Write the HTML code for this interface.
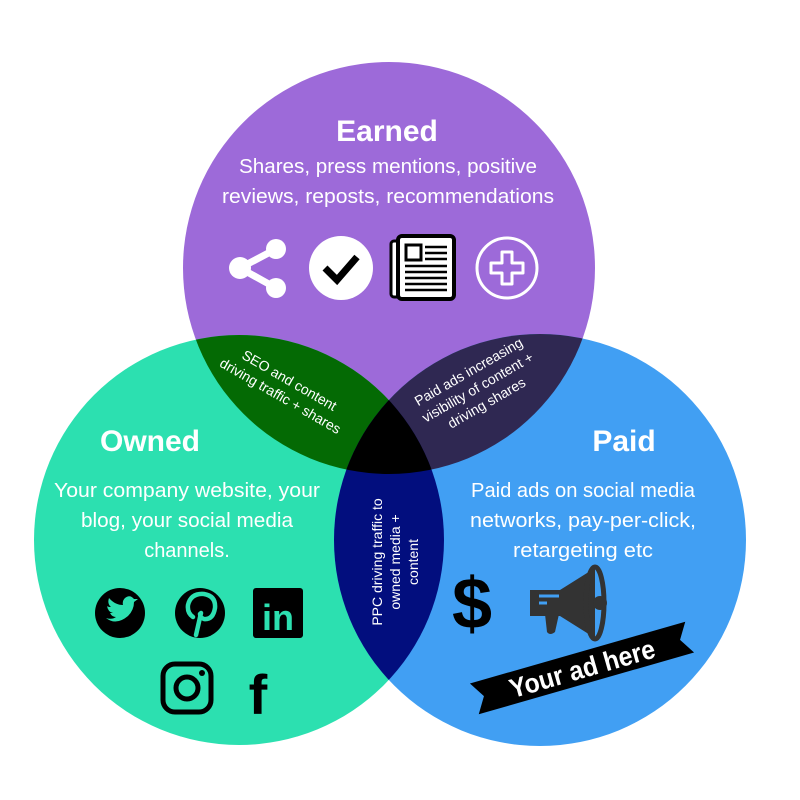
<!DOCTYPE html>
<html><head><meta charset="utf-8"><style>
html,body{margin:0;padding:0;background:#fff;}
svg{display:block;font-family:"Liberation Sans",sans-serif;}
</style></head><body>
<svg width="800" height="800" viewBox="0 0 800 800" xmlns="http://www.w3.org/2000/svg">
<defs>
<clipPath id="cE"><circle cx="389" cy="268" r="206"/></clipPath>
<clipPath id="cO"><circle cx="239" cy="540" r="205"/></clipPath>
<clipPath id="cP"><circle cx="540" cy="540" r="206"/></clipPath>
</defs>
<circle cx="389" cy="268" r="206" fill="#9d6ad9"/>
<circle cx="239" cy="540" r="205" fill="#2ce0b0"/>
<circle cx="540" cy="540" r="206" fill="#419ff3"/>
<g clip-path="url(#cE)"><circle cx="239" cy="540" r="205" fill="#046a04"/><circle cx="540" cy="540" r="206" fill="#2f2852"/></g>
<g clip-path="url(#cO)"><circle cx="540" cy="540" r="206" fill="#020e7e"/></g>
<g clip-path="url(#cE)"><g clip-path="url(#cO)"><circle cx="540" cy="540" r="206" fill="#000"/></g></g>

<g fill="#fff" text-anchor="middle">
<text x="387" y="141" font-size="30" font-weight="bold">Earned</text>
<text x="388" y="173" font-size="20" textLength="298" lengthAdjust="spacingAndGlyphs">Shares, press mentions, positive</text>
<text x="388" y="203" font-size="20" textLength="332" lengthAdjust="spacingAndGlyphs">reviews, reposts, recommendations</text>
<text x="150" y="451" font-size="30" font-weight="bold">Owned</text>
<text x="187" y="497" font-size="20" textLength="266" lengthAdjust="spacingAndGlyphs">Your company website, your</text>
<text x="187" y="527" font-size="20" textLength="212" lengthAdjust="spacingAndGlyphs">blog, your social media</text>
<text x="187" y="557" font-size="20">channels.</text>
<text x="624" y="451" font-size="30" font-weight="bold">Paid</text>
<text x="583" y="497" font-size="20" textLength="224" lengthAdjust="spacingAndGlyphs">Paid ads on social media</text>
<text x="583" y="527" font-size="20" textLength="226" lengthAdjust="spacingAndGlyphs">networks, pay-per-click,</text>
<text x="583" y="557" font-size="20" textLength="140" lengthAdjust="spacingAndGlyphs">retargeting etc</text>
<g font-size="14">
<g transform="translate(285,388) rotate(30)"><text x="0" y="-4">SEO and content</text><text x="0" y="14">driving traffic + shares</text></g>
<g transform="translate(478,388) rotate(-30)"><text x="0" y="-14">Paid ads increasing</text><text x="0" y="4">visibility of content +</text><text x="0" y="22">driving shares</text></g>
<g transform="translate(392,562) rotate(-90)"><text x="0" y="-10">PPC driving traffic to</text><text x="0" y="8">owned media +</text><text x="0" y="26">content</text></g>
</g>
</g>

<!-- earned icons -->
<g fill="#fff" stroke="#fff">
<line x1="240" y1="268" x2="276" y2="249" stroke-width="7"/>
<line x1="240" y1="268" x2="276" y2="288" stroke-width="7"/>
<circle cx="240" cy="268" r="11" stroke="none"/>
<circle cx="276" cy="249" r="10" stroke="none"/>
<circle cx="276" cy="288" r="10" stroke="none"/>
</g>
<circle cx="341" cy="268" r="32" fill="#fff"/>
<polyline points="325,268 337,280 357,257" fill="none" stroke="#000" stroke-width="7"/>
<rect x="391" y="241" width="18" height="56" rx="3" fill="#fff" stroke="#000" stroke-width="3"/>
<rect x="398" y="236" width="56" height="63" rx="4" fill="#fff" stroke="#000" stroke-width="4"/>
<rect x="406" y="245" width="15" height="15" fill="#fff" stroke="#000" stroke-width="3"/>
<g stroke="#000" stroke-width="2.5"><line x1="425" y1="247" x2="447" y2="247"/><line x1="425" y1="253" x2="447" y2="253"/><line x1="425" y1="259" x2="447" y2="259"/><line x1="405" y1="266" x2="447" y2="266"/><line x1="405" y1="272" x2="447" y2="272"/><line x1="405" y1="278" x2="447" y2="278"/><line x1="405" y1="284" x2="447" y2="284"/><line x1="405" y1="290" x2="447" y2="290"/></g>
<circle cx="507" cy="268" r="30" fill="none" stroke="#fff" stroke-width="3"/>
<path d="M502,252 h10 v11 h11 v10 h-11 v11 h-10 v-11 h-11 v-10 h11 z" fill="none" stroke="#fff" stroke-width="3" stroke-linejoin="round"/>

<!-- owned icons -->
<circle cx="120" cy="613" r="25" fill="#000"/>
<path d="M106,618 q10,8 22,-2 q6,-6 6,-14 l4,-3 -4,0 q-4,-5 -9,-1 q-3,3 -2,7 q-8,0 -14,-7 q-2,6 2,9 q-3,0 -4,-1 q1,6 6,7 l-3,0 q2,4 6,4 q-4,3 -10,1z" fill="#2ce0b0"/>
<circle cx="200" cy="613" r="25" fill="#000"/>
<path d="M196,635 l5,-22 M193,617 q-6,-4 -5,-12 q3,-12 16,-11 q12,2 11,14 q-2,12 -11,11 q-4,-1 -4,-5" fill="none" stroke="#2ce0b0" stroke-width="4.5" stroke-linecap="round"/>
<rect x="253" y="588" width="50" height="50" rx="3" fill="#000"/>
<text x="278" y="630" text-anchor="middle" font-size="36" font-weight="bold" fill="#2ce0b0">in</text>
<rect x="163" y="664" width="48" height="48" rx="12" fill="none" stroke="#000" stroke-width="5"/>
<circle cx="187" cy="688" r="11" fill="none" stroke="#000" stroke-width="5"/>
<circle cx="202" cy="673" r="3" fill="#000"/>
<text x="258" y="714" text-anchor="middle" font-size="56" font-weight="bold" fill="#000">f</text>

<!-- paid icons -->
<text x="472" y="628" text-anchor="middle" font-size="72" font-weight="bold" fill="#000">$</text>
<g fill="#333">
<path d="M530,590 h30 l35,-22 v70 l-35,-22 h-30 z"/>
<path d="M545,614 h14 l-4,18 q-5,4 -8,0 z"/>
</g>
<ellipse cx="595" cy="603" rx="9" ry="36" fill="none" stroke="#333" stroke-width="5"/>
<circle cx="600" cy="603" r="7" fill="#333"/>
<path d="M539,596 h20 M539,603 h8" stroke="#419ff3" stroke-width="3"/>
<g transform="translate(582,668) rotate(-16)">
<polygon points="-112,-16 112,-16 102,0 112,16 -112,16 -102,0" fill="#000"/>
<text x="0" y="10" text-anchor="middle" font-size="27" font-weight="bold" fill="#fff" textLength="150" lengthAdjust="spacingAndGlyphs">Your ad here</text>
</g>
</svg>
</body></html>
